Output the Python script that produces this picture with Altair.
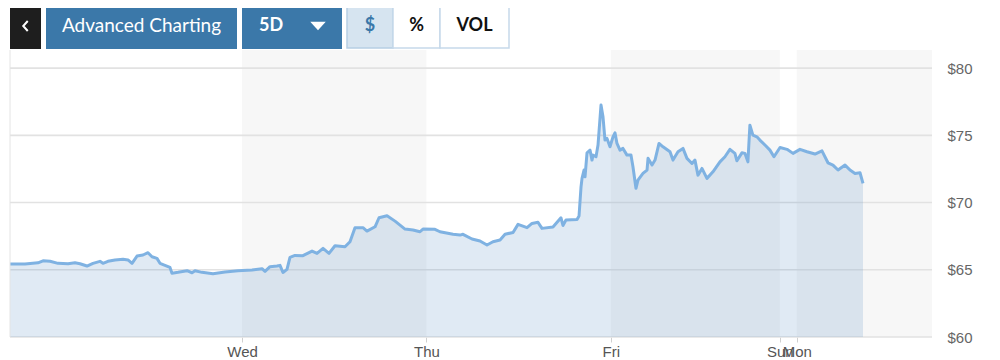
import altair as alt
import pandas as pd

# ---- data (hours since chart start, price in $) ----
hours = [0.0, 1.95, 3.64, 4.30, 5.21, 6.25, 7.55, 8.46, 9.11, 10.02, 10.80, 11.71, 12.10, 12.75,
         13.67, 14.71, 15.36, 15.88, 16.53, 17.31, 17.96, 18.48, 19.13, 19.52, 20.17, 20.82,
         21.08, 21.87, 23.04, 23.69, 24.08, 24.99, 26.42, 27.98, 29.67, 31.50, 32.80, 33.19,
         33.84, 34.75, 35.14, 35.53, 36.05, 36.44, 37.09, 38.13, 39.31, 39.96, 40.74, 41.52,
         42.30, 43.60, 44.25, 44.90, 45.94, 46.46, 47.51, 48.03, 49.07, 50.11, 51.41, 52.45,
         53.36, 53.75, 55.31, 55.96, 57.66, 58.57, 58.96, 60.13, 61.17, 62.08, 62.86, 63.78,
         64.43, 65.47, 66.12, 67.29, 67.94, 68.72, 69.24, 70.67, 71.71, 71.97, 72.36, 73.80,
         74.06, 74.32, 74.45, 74.71, 74.84, 75.10, 75.49, 75.75, 75.88, 76.27, 76.53, 76.92,
         77.18, 77.44, 77.70, 78.09, 78.48, 78.74, 79.00, 79.39, 79.78, 80.30, 80.82, 81.08,
         81.47, 81.73, 82.38, 82.91, 83.04, 83.56, 83.95, 84.47, 84.99, 85.90, 86.29, 86.94,
         87.59, 88.11, 88.76, 89.15, 89.54, 90.06, 90.71, 91.49, 92.40, 93.05, 93.70, 94.35,
         94.61, 95.26, 95.65, 96.04, 96.30, 96.69, 97.21, 97.60, 98.26, 98.91, 99.43, 100.22,
         101.13, 101.91, 102.82, 103.73, 104.77, 105.68, 106.46, 107.11, 107.77, 108.68,
         109.33, 109.98, 110.63, 111.02]
prices = [65.43, 65.43, 65.52, 65.67, 65.63, 65.48, 65.45, 65.52, 65.45, 65.28, 65.48, 65.63, 65.48, 65.63,
          65.73, 65.78, 65.73, 65.48, 66.02, 66.10, 66.27, 65.97, 65.85, 65.48, 65.33, 65.18,
          64.74, 64.81, 64.93, 64.78, 64.93, 64.81, 64.71, 64.83, 64.93, 64.98, 65.08, 64.88,
          65.23, 65.28, 65.33, 64.80, 65.03, 65.93, 66.07, 66.05, 66.39, 66.22, 66.59, 66.22,
          66.79, 66.71, 67.09, 68.13, 68.13, 67.88, 68.20, 68.87, 69.02, 68.62, 68.03, 67.96,
          67.83, 68.03, 68.01, 67.83, 67.64, 67.58, 67.64, 67.29, 67.14, 66.84, 67.09, 67.21,
          67.64, 67.78, 68.38, 68.13, 68.45, 68.53, 68.08, 68.18, 68.87, 68.30, 68.70, 68.74,
          69.00, 71.17, 71.80, 72.42, 71.92, 73.70, 73.90, 73.16, 73.53, 73.41, 74.28, 77.25,
          76.38, 74.65, 74.77, 74.15, 74.89, 75.19, 74.40, 73.90, 74.03, 73.53, 73.53, 72.66,
          71.06, 71.67, 72.17, 72.42, 73.29, 72.79, 73.16, 74.40, 74.15, 73.78, 73.16, 73.78,
          74.03, 73.29, 72.91, 73.16, 72.04, 72.54, 71.80, 72.29, 73.03, 73.41, 73.96, 73.66,
          73.11, 73.70, 73.66, 73.03, 75.76, 75.02, 74.89, 74.65, 74.28, 73.90, 73.41, 74.10,
          73.96, 73.66, 73.96, 73.78, 73.61, 73.85, 72.96, 72.79, 72.42, 72.79,
          72.42, 72.17, 72.22, 71.43]

tick_pos = [30.2, 54.2, 78.2, 100.2, 102.4]
tick_labels = ["Wed", "Thu", "Fri", "Sun", "Mon"]
band_start = [30.2, 78.2, 102.4]
band_end = [54.2, 100.2, 120.0]
y_ticks = [60, 65, 70, 75, 80]

X_DOMAIN = [0, 120]
Y_DOMAIN = [60, 81.35]
W, H = 922, 287

price_df = pd.DataFrame({"t": hours, "price": prices})
band_df = pd.DataFrame({"start": band_start, "end": band_end})
grid_df = pd.DataFrame({"v": y_ticks})

label_expr = " : ".join(
    f"datum.value == {p} ? '{l}'" for p, l in zip(tick_pos, tick_labels)
) + " : ''"

xscale = alt.Scale(domain=X_DOMAIN, nice=False, zero=False)
yscale = alt.Scale(domain=Y_DOMAIN, nice=False, zero=False)

x_axis = alt.Axis(values=tick_pos, labelExpr=label_expr, title=None, grid=False,
                  domain=False, tickColor="#d0d0d0", tickSize=5, tickWidth=1,
                  labelFont="Liberation Sans", labelFontSize=15, labelColor="#555555",
                  labelPadding=2, labelOverlap=False, labelFlush=False)
y_axis = alt.Axis(values=y_ticks, orient="right", title=None, grid=False, domain=False,
                  ticks=False, labelExpr="'$' + datum.value",
                  labelFont="Liberation Sans", labelFontSize=15, labelColor="#666666",
                  labelPadding=15)

bands = alt.Chart(band_df).mark_rect(color="#f7f7f7").encode(
    x=alt.X("start:Q", scale=xscale, axis=x_axis),
    x2="end:Q",
    y=alt.value(0), y2=alt.value(H),
)

grid = alt.Chart(grid_df).mark_rule(color="#e2e2e2", strokeWidth=1.6).encode(
    y=alt.Y("v:Q", scale=yscale, axis=y_axis),
    x=alt.value(0), x2=alt.value(W),
)

area = alt.Chart(price_df).mark_area(color="#5b8fc7", opacity=0.19).encode(
    x=alt.X("t:Q", scale=xscale),
    y=alt.Y("price:Q", scale=yscale),
    y2=alt.datum(60),
)

line = alt.Chart(price_df).mark_line(color="#7fb2e2", strokeWidth=3,
                                     strokeJoin="round").encode(
    x=alt.X("t:Q", scale=xscale),
    y=alt.Y("price:Q", scale=yscale),
)

one = alt.Data(values=[{"k": 0}])

left_border = alt.Chart(one).mark_rule(color="#e4e4e4", strokeWidth=1).encode(
    x=alt.value(0), y=alt.value(0), y2=alt.value(H)
)

TOP, BOT = -47, -1
MID = -24


def rect(x0, x1, fill, stroke=None, y0=TOP, y1=BOT):
    kw = dict(fill=fill)
    if stroke:
        kw.update(stroke=stroke, strokeWidth=1.5)
    return alt.Chart(one).mark_rect(**kw).encode(
        x=alt.value(x0), x2=alt.value(x1), y=alt.value(y0), y2=alt.value(y1))


def label(cx, txt, color, weight="normal", size=18, font="Lato"):
    return alt.Chart(one).mark_text(text=txt, color=color, fontWeight=weight,
                                    fontSize=size, font=font, align="center",
                                    baseline="middle").encode(
        x=alt.value(cx), y=alt.value(MID))


BLUE = "#3b78a9"
buttons = [
    rect(0, 31, "#1e1e1e"),
    alt.Chart(one).mark_point(shape="M0.45,-1L-0.45,0L0.45,1", filled=False,
                              color="white", size=100, strokeWidth=2, opacity=1).encode(
        x=alt.value(15.5), y=alt.value(MID)),
    rect(36, 227, BLUE),
    label(131.5, "Advanced Charting", "white", size=19),
    rect(232, 332, BLUE),
    label(261, "5D", "white", weight="bold", size=18),
    alt.Chart(one).mark_point(shape="M-1,-0.55L1,-0.55L0,0.55Z", filled=True,
                              color="white", size=240, opacity=1).encode(
        x=alt.value(308), y=alt.value(MID)),
    rect(337, 383, "#d6e4f0", "#b6cee3", TOP + 1, BOT - 1),
    label(360, "$", BLUE, weight="bold", size=18),
    rect(383, 430, "#ffffff", "#c6d9ea", TOP + 1, BOT - 1),
    label(406.5, "%", "#111111", weight="bold", size=18),
    rect(430, 499, "#ffffff", "#c6d9ea", TOP + 1, BOT - 1),
    label(464.5, "VOL", "#111111", weight="bold", size=18),
]

chart = alt.layer(bands, grid, area, line, left_border, *buttons).properties(
    width=W, height=H,
    autosize=alt.AutoSizeParams(type="none"),
    padding={"left": 2, "top": 42, "right": 60, "bottom": 22},
    background="white",
).configure_view(stroke=None)

chart.save("out.html", embed_options={"renderer": "svg", "actions": False})
